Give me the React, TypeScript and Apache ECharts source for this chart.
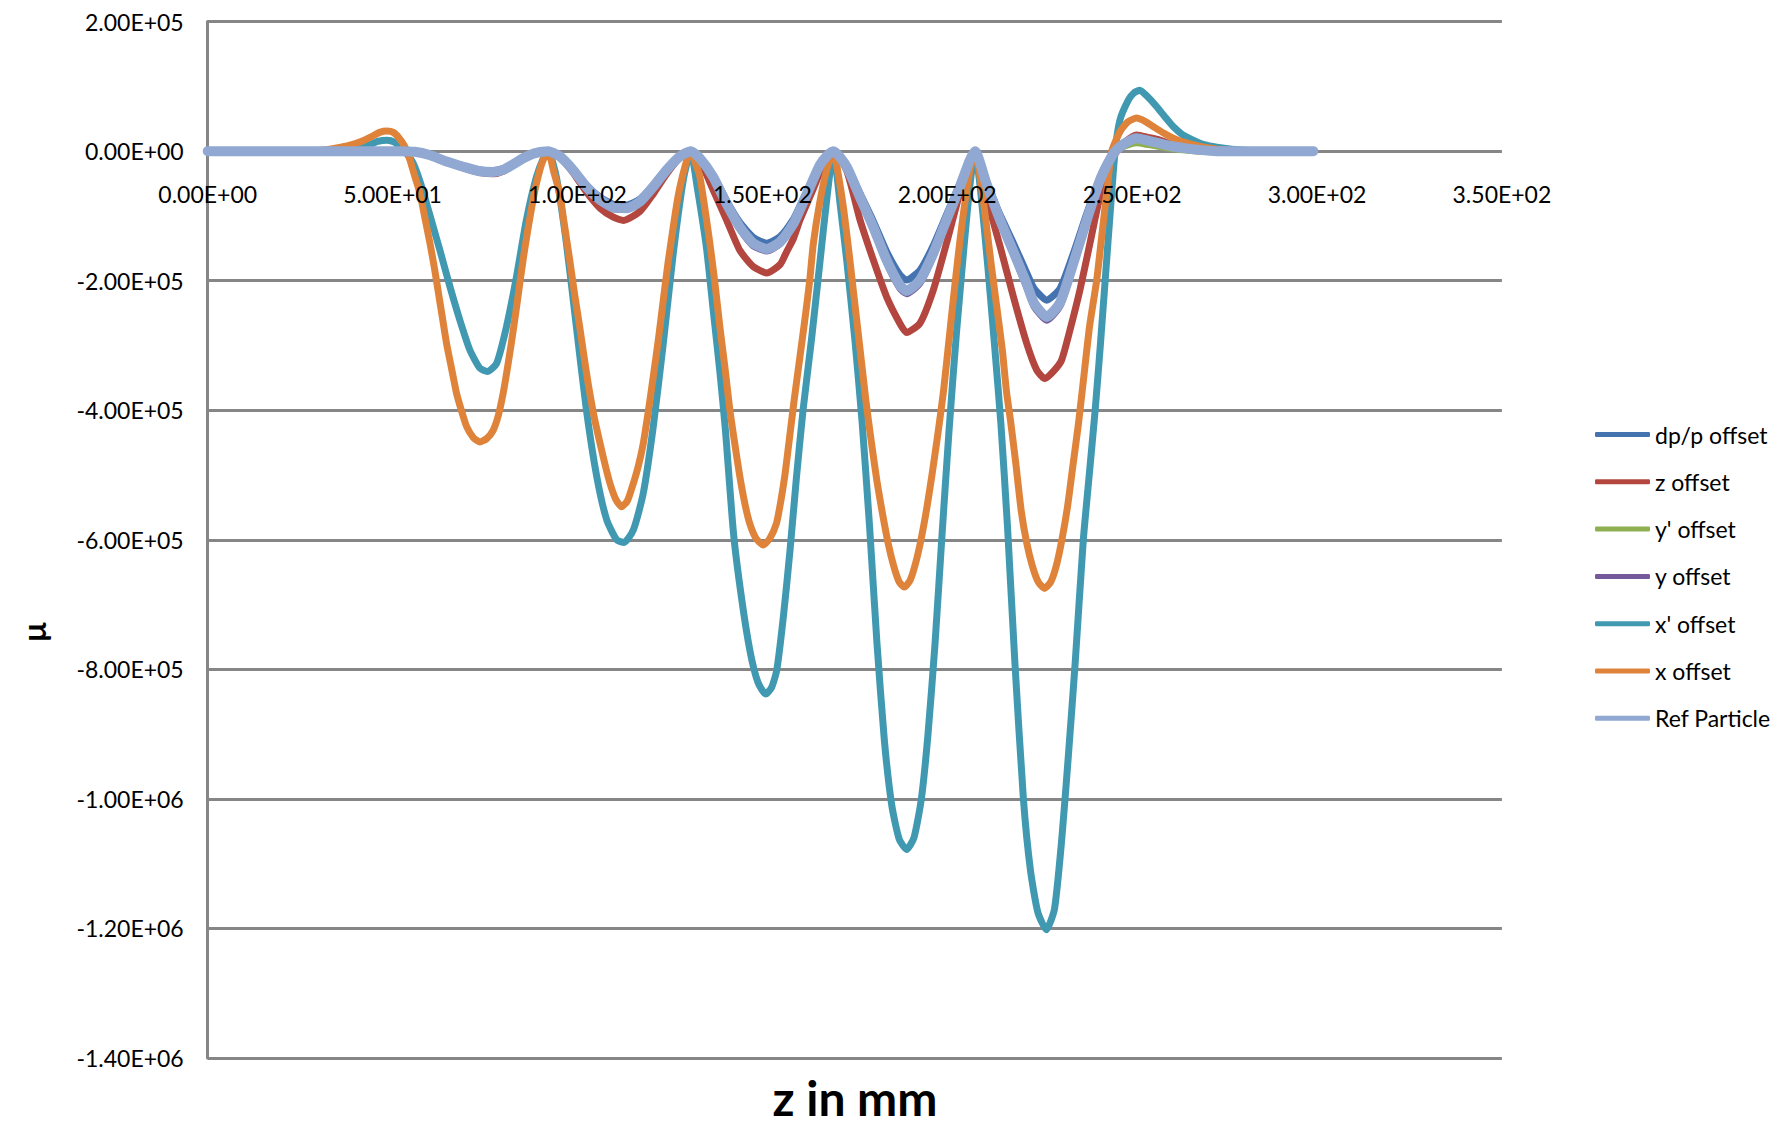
import React, { useEffect, useRef } from "react";
import * as echarts from "echarts";

// Values are in thousands (k) of the y unit; z in mm.
const UNIT = 1000;

const SERIES_NAMES = ["dp/p offset", "z offset", "y' offset", "y offset", "x' offset", "x offset", "Ref Particle"];
const SERIES_COLORS = ["#4573B0", "#B3473F", "#8FB050", "#76599A", "#4199B1", "#DF833A", "#90A8D2"];

const dpOffset: number[][] = [
  [0, 0], [20, 0], [40, 0], [52, 0], [56, -1], [60, -6], [64.6, -15], [69.1, -23], [73.6, -29], [77.2, -30], [79.9, -27], [82.7, -19], [85.3, -10], [88, -4], [90.5, -1], [92.1, 0],
  [95.2, -8], [98.8, -28], [102.4, -52], [106.1, -71], [109.7, -82], [113.3, -83], [116.9, -74], [120.5, -52], [124.1, -27], [127.7, -7], [130.6, 0],
  [133.1, -10], [136.7, -37], [140.3, -76], [143.9, -110], [147.5, -133], [151.2, -142], [154.8, -132], [158.4, -105], [160.2, -84], [162.9, -51], [165.5, -20], [167.5, -6], [169.2, 0],
  [172.8, -22], [176.4, -65], [180, -108], [183.6, -155], [187.2, -191], [189, -199], [192.6, -184], [196.2, -146], [199.8, -98], [203.4, -50], [206.1, -13], [207.5, 0],
  [210.6, -46], [214.2, -97], [217.9, -142], [221.5, -188], [223.5, -212], [226.9, -230], [230.5, -212], [234.1, -158], [237.7, -97], [241.3, -40], [243.5, -15], [245.4, 0],
  [248, 11], [251.2, 18], [254.5, 15], [257.5, 11], [260.5, 7], [263.8, 4], [268, 2], [272.9, 0], [285, 0], [299, 0],
];

const zOffset: number[][] = [
  [0, 0], [20, 0], [40, 0], [52, 0], [56, -1], [60, -6], [64.6, -16], [69.1, -26], [73.6, -33], [77.2, -35], [79.9, -31], [82.7, -21], [85.3, -12], [88, -4], [90.5, -1], [92.1, 0],
  [95.2, -9], [98.8, -33], [102.4, -63], [106.1, -88], [109.7, -102], [112.5, -107], [116.9, -93], [120.5, -66], [124.1, -35], [127.7, -10], [130.6, 0],
  [133.1, -14], [136.7, -60], [140.3, -106], [143.9, -153], [147.5, -178], [151.2, -188], [154.8, -175], [156.6, -155], [158.4, -135], [160.2, -106], [162.9, -70], [164.5, -48], [166, -27], [167.4, -14], [169.2, 0],
  [172.8, -30], [176.4, -106], [180, -168], [183.6, -225], [187.2, -266], [189, -280], [192.6, -266], [196.2, -215], [199.8, -142], [203.4, -65], [206.1, -19], [207.5, 0],
  [210.6, -71], [214.2, -145], [217.9, -225], [221.5, -297], [224.2, -338], [226.4, -351], [228.7, -340], [230.9, -323], [233.2, -276], [235.9, -214], [238.6, -142], [241.3, -70], [244.1, -19], [245.9, 0],
  [248, 14], [251.2, 25], [254.5, 21], [257.5, 17], [260.5, 11], [263.8, 6], [268, 2], [272.9, 0], [285, 0], [299, 0],
];

const yPrimeOffset: number[][] = [
  [0, 0], [20, 0], [40, 0], [52, 0], [56, -1], [60, -6], [64.6, -16], [69.1, -24], [73.6, -31], [77.2, -32], [79.9, -29], [82.7, -20], [85.3, -11], [88, -4], [90.5, -1], [92.1, 0],
  [95.2, -8], [98.8, -29], [102.4, -55], [106.1, -75], [109.7, -87], [113.3, -88], [116.9, -78], [120.5, -55], [124.1, -29], [127.7, -8], [130.6, 0],
  [133.1, -11], [136.7, -40], [140.3, -81], [143.9, -117], [147.5, -142], [151.2, -150], [154.8, -140], [158.4, -112], [160.2, -90], [162.9, -55], [165.5, -22], [167.5, -7], [169.2, 0],
  [172.8, -24], [176.4, -71], [180, -117], [183.6, -168], [187.2, -207], [189, -215], [192.6, -199], [196.2, -158], [199.8, -106], [203.4, -55], [206.1, -14], [207.5, 0],
  [210.6, -50], [214.2, -105], [217.9, -155], [221.5, -205], [223.5, -234], [226.9, -255], [230.5, -234], [234.1, -173], [237.7, -107], [241.3, -45], [243.5, -18], [245.4, 0],
  [248, 8], [251.2, 13], [254.5, 10], [257.5, 7], [260.5, 4], [263.8, 2], [268, 0], [272.9, 0], [285, 0], [299, 0],
];

const yOffset: number[][] = [
  [0, 0], [20, 0], [40, 0], [52, 0], [56, -1], [60, -6], [64.6, -16], [69.1, -25], [73.6, -32], [77.2, -33], [79.9, -30], [82.7, -21], [85.3, -11], [88, -4], [90.5, -1], [92.1, 0],
  [95.2, -8], [98.8, -30], [102.4, -56], [106.1, -77], [109.7, -89], [113.3, -90], [116.9, -80], [120.5, -56], [124.1, -30], [127.7, -8], [130.6, 0],
  [133.1, -11], [136.7, -41], [140.3, -83], [143.9, -120], [147.5, -146], [151.2, -154], [154.8, -143], [158.4, -114], [160.2, -92], [162.9, -56], [165.5, -22], [167.5, -7], [169.2, 0],
  [172.8, -25], [176.4, -73], [180, -120], [183.6, -172], [187.2, -212], [189, -220], [192.6, -204], [196.2, -162], [199.8, -109], [203.4, -56], [206.1, -14], [207.5, 0],
  [210.6, -51], [214.2, -108], [217.9, -159], [221.5, -210], [223.5, -240], [226.9, -261], [230.5, -239], [234.1, -177], [237.7, -110], [241.3, -46], [243.5, -18], [245.4, 0],
  [248, 12], [251.2, 20], [254.5, 16], [257.5, 12], [260.5, 8], [263.8, 5], [268, 2], [272.9, 0], [285, 0], [299, 0],
];

const xPrimeOffset: number[][] = [
  [0, 0], [10, 0], [20, 0], [30, 0], [35, 0.5], [40, 3], [43, 8], [46, 15], [48.5, 17], [50.5, 14], [52.5, 5], [54, -5], [55.6, -19], [57.5, -48], [59.2, -81], [61, -117], [62.8, -153], [65.5, -209], [68.2, -261], [70.9, -307], [73.6, -335], [75.6, -340], [78.1, -328], [80.8, -271], [83.5, -194], [86.2, -106], [88.9, -40], [91, -8], [92.1, 0],
  [94.3, -40], [97, -142], [99.7, -271], [102.4, -399], [105.2, -502], [107.9, -569], [110.6, -600], [112.6, -604], [115.1, -585], [117.8, -528], [120.5, -425], [123.2, -297], [125.9, -158], [128.6, -45], [130.6, 0],
  [132.5, -60], [134.9, -150], [136.7, -245], [138.5, -340], [140, -430], [142.2, -590], [144.4, -691], [146.7, -773], [148.8, -820], [150.9, -838], [152.5, -828], [153.9, -801], [155.7, -718], [157.5, -615], [159.2, -505], [161, -400], [163.3, -290], [165.5, -175], [167.5, -70], [169.2, 0],
  [171, -80], [172.8, -168], [175, -290], [177, -420], [179, -580], [181, -760], [183, -910], [185, -1010], [187, -1062], [189, -1078], [191, -1060], [193, -1000], [194.8, -900], [196.7, -760], [198.5, -600], [200.5, -430], [202.5, -280], [204.5, -150], [206, -60], [207.5, 0],
  [209, -60], [211, -180], [212.9, -307], [214.5, -420], [216.3, -580], [218.3, -790], [220.6, -1000], [222.5, -1110], [224.5, -1175], [226.8, -1202], [229, -1170], [231, -1060], [232.8, -930], [234.6, -790], [236.8, -600], [238.4, -500], [240, -400], [241.4, -300], [242.7, -200], [244, -100], [245.4, 0],
  [246.7, 48], [249, 79], [250.5, 90], [252.1, 94], [254, 85], [256.6, 69], [259, 52], [261.1, 38], [263.5, 26], [266.5, 17], [269.5, 10], [272.9, 6], [277, 3], [282, 1], [290, 0], [299, 0],
];

const xOffset: number[][] = [
  [0, 0], [10, 0], [20, 0], [27, 0], [30, 1], [33, 3], [36, 6], [39, 10], [42, 16], [44.5, 23], [46.5, 29], [48.5, 31], [50.2, 29], [51.8, 20], [53.2, 8], [54.5, -10], [55.8, -35], [57.4, -65], [58.8, -105], [60.1, -142], [61.3, -180], [62.4, -219], [63.5, -258], [64.6, -297], [66, -337], [67.3, -374], [68.7, -402], [70, -425], [71.8, -442], [73.6, -449], [75.4, -444], [77.2, -431], [78.6, -408], [79.9, -374], [81, -337], [82.1, -297], [83.3, -250], [84.4, -204], [85.5, -160], [86.7, -117], [88, -75], [88.9, -50], [90.3, -20], [91.6, -3], [92.1, 0],
  [93.5, -30], [95.2, -66], [96.5, -115], [97.9, -168], [99.2, -220], [100.6, -271], [101.8, -318], [102.9, -359], [104.5, -410], [106.1, -451], [107.5, -485], [108.8, -513], [110.4, -538], [111.9, -549], [113.5, -540], [115.1, -513], [116.5, -485], [117.8, -451], [119.2, -400], [120.5, -348], [121.9, -290], [123.2, -230], [124.5, -172], [125.9, -117], [127.2, -70], [128.6, -34], [129.8, -10], [130.6, 0],
  [132, -20], [133.1, -40], [134.5, -90], [135.8, -142], [137.2, -205], [138.5, -271], [139.9, -335], [141.2, -399], [142.5, -450], [143.9, -502], [145.3, -545], [146.6, -575], [148.3, -598], [150.2, -608], [152, -598], [153.8, -575], [155, -540], [156.1, -500], [157.4, -440], [158.7, -380], [160.1, -320], [161.5, -260], [162.8, -200], [163.8, -142], [165.5, -80], [167.4, -29], [169.2, 0],
  [170.5, -35], [172, -90], [173.5, -160], [175, -235], [176.5, -310], [178, -385], [179.5, -450], [181, -510], [182.5, -560], [184, -605], [185.5, -640], [187, -665], [188.4, -673], [190, -662], [191.5, -635], [193, -597], [194.5, -550], [196, -495], [197.5, -435], [199, -370], [200.5, -290], [202, -210], [203.5, -135], [205, -70], [206.3, -25], [207.5, 0],
  [209, -45], [210.5, -110], [212, -180], [213.5, -245], [214.9, -307], [216, -370], [217.2, -420], [218.5, -480], [220, -555], [221.5, -605], [223, -640], [224.6, -665], [226.3, -675], [228, -665], [229.5, -640], [231, -600], [232.5, -550], [234, -485], [235.5, -420], [237, -345], [238.5, -270], [240.4, -200], [242, -120], [243.3, -55], [244.5, 0],
  [246.7, 30], [248.8, 45], [251.2, 51], [253.5, 46], [255.7, 38], [258.5, 28], [261.1, 20], [263.8, 14], [266.5, 10], [269.5, 6], [272.9, 3], [277, 1], [282, 0], [290, 0], [299, 0],
];

const refParticle: number[][] = [
  [0, 0], [20, 0], [40, 0], [52, 0], [56, -1], [60, -6], [64.6, -16], [69.1, -24], [73.6, -31], [77.2, -32], [79.9, -29], [82.7, -20], [85.3, -11], [88, -4], [90.5, -1], [92.1, 0],
  [95.2, -8], [98.8, -29], [102.4, -55], [106.1, -75], [109.7, -87], [113.3, -88], [116.9, -78], [120.5, -55], [124.1, -29], [127.7, -8], [130.6, 0],
  [133.1, -11], [136.7, -40], [140.3, -81], [143.9, -117], [147.5, -142], [151.2, -151], [154.8, -140], [158.4, -112], [160.2, -90], [162.9, -55], [165.5, -22], [167.5, -7], [169.2, 0],
  [172.8, -24], [176.4, -71], [180, -117], [183.6, -168], [187.2, -207], [189, -216], [192.6, -199], [196.2, -158], [199.8, -106], [203.4, -55], [206.1, -14], [207.5, 0],
  [210.6, -50], [214.2, -105], [217.9, -155], [221.5, -205], [223.5, -235], [226.9, -256], [230.5, -234], [234.1, -173], [237.7, -107], [241.3, -45], [243.5, -18], [245.4, 0],
  [248, 12], [251.2, 20], [254.5, 16], [257.5, 12], [260.5, 8], [263.8, 5], [268, 2], [272.9, 0], [285, 0], [299, 0],
];

const SERIES_DATA = [dpOffset, zOffset, yPrimeOffset, yOffset, xPrimeOffset, xOffset, refParticle];
const SERIES_WIDTHS = [7, 7, 7, 7, 7, 7, 10];

const X_MIN = 0, X_MAX = 350, X_STEP = 50;
const Y_MIN = -1400000, Y_MAX = 200000, Y_STEP = 200000;

const X_TITLE = "z in mm";
const Y_TITLE = "µ";

function sci(v: number): string {
  if (v === 0) return "0.00E+00";
  const sign = v < 0 ? "-" : "";
  const a = Math.abs(v);
  let e = Math.floor(Math.log10(a) + 1e-9);
  let ms = (a / Math.pow(10, e)).toFixed(2);
  if (ms === "10.00") { e += 1; ms = "1.00"; }
  const es = (e < 0 ? "-" : "+") + String(Math.abs(e)).padStart(2, "0");
  return `${sign}${ms}E${es}`;
}

const FONT = "Lato";
const GRAY = "#868686";

// grid geometry
const GRID_TOP = 21.6;
const GRID_BOTTOM = 70;
const CHART_H = 1128;
const PLOT_H = CHART_H - GRID_TOP - GRID_BOTTOM;
// distance from the plot's bottom edge to the zero line, from the y range
const ZERO_FROM_BOTTOM = PLOT_H * (0 - Y_MIN) / (Y_MAX - Y_MIN);

export default function App() {
  const ref = useRef<HTMLDivElement>(null);
  useEffect(() => {
    if (!ref.current) return;
    const chart = echarts.init(ref.current, undefined, { renderer: "svg" });
    const option: any = {
      animation: false,
      backgroundColor: "#ffffff",
      grid: { left: 207.7, right: 278.1, top: GRID_TOP, bottom: GRID_BOTTOM, containLabel: false },
      xAxis: {
        type: "value",
        min: X_MIN,
        max: X_MAX,
        interval: X_STEP,
        z: 5,
        position: "bottom",
        offset: -ZERO_FROM_BOTTOM,
        axisLine: { show: false, onZero: false },
        axisTick: { show: false },
        splitLine: { show: false },
        axisLabel: {
          formatter: (v: number) => sci(v),
          fontFamily: FONT,
          fontSize: 23,
          color: "#000",
          margin: 31,
        },
      },
      yAxis: {
        type: "value",
        min: Y_MIN,
        max: Y_MAX,
        interval: Y_STEP,
        axisLine: { show: true, onZero: false, lineStyle: { color: GRAY, width: 3 } },
        axisTick: { show: false },
        splitLine: { show: true, lineStyle: { color: GRAY, width: 2.8 } },
        axisLabel: {
          formatter: (v: number) => sci(v),
          fontFamily: FONT,
          fontSize: 23,
          color: "#000",
          margin: 24,
        },
      },
      legend: {
        orient: "vertical",
        left: 1590,
        top: 417.5,
        icon: "roundRect",
        itemWidth: 55,
        itemHeight: 5,
        itemGap: 23.3,
        textStyle: { fontFamily: FONT, fontSize: 23, color: "#000", lineHeight: 24 },
        data: SERIES_NAMES,
      },
      graphic: [
        {
          type: "text",
          x: 855,
          y: 1097,
          style: { text: X_TITLE, fontFamily: FONT, fontWeight: "bold", fontSize: 48, fill: "#000", align: "center", verticalAlign: "middle" },
        },
        {
          type: "text",
          x: 33,
          y: 632,
          rotation: Math.PI / 2,
          style: { text: Y_TITLE, fontFamily: FONT, fontWeight: "bold", fontSize: 32, fill: "#000", align: "center", verticalAlign: "middle" },
        },
      ],
      series: SERIES_NAMES.map((name, i) => ({
        name,
        type: "line",
        symbol: "none",
        showSymbol: false,
        smooth: 0.2,
        color: SERIES_COLORS[i],
        lineStyle: { color: SERIES_COLORS[i], width: SERIES_WIDTHS[i], cap: "round", join: "round" },
        data: SERIES_DATA[i].map(([z, v]) => [z, v * UNIT]),
      })),
    };
    chart.setOption(option);
    return () => chart.dispose();
  }, []);
  return (
    <div
      ref={ref}
      style={{ position: "fixed", left: 0, top: 0, width: 1780, height: 1128, background: "#fff" }}
    />
  );
}
